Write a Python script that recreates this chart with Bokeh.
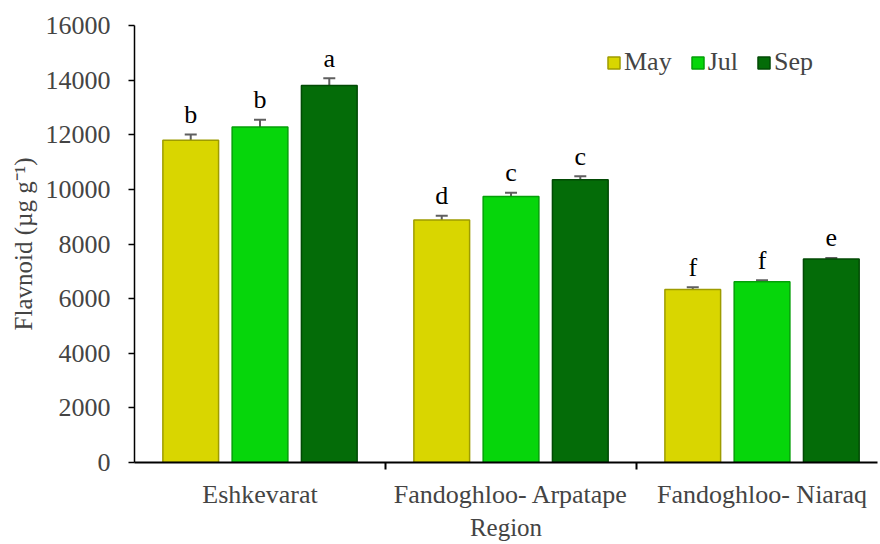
import numpy as np
from bokeh.plotting import figure
from bokeh.models import ColumnDataSource, FixedTicker, Range1d, Legend, LegendItem, Whisker
from bokeh.core.properties import value
from bokeh.embed import file_html
from bokeh.resources import INLINE

regions = ["Eshkevarat", "Fandoghloo- Arpatape", "Fandoghloo- Niaraq"]
months = ["May", "Jul", "Sep"]
may = [11800, 8880, 6330]
jul = [12280, 9740, 6620]
sep = [13800, 10350, 7450]
may_err = [210, 150, 90]
jul_err = [270, 140, 50]
sep_err = [270, 130, 40]
may_let = ["b", "d", "f"]
jul_let = ["b", "c", "f"]
sep_let = ["a", "c", "e"]
y_ticks = [0, 2000, 4000, 6000, 8000, 10000, 12000, 14000, 16000]

fills = ["#D9D600", "#06D60B", "#046C08"]
edges = ["#9E9C00", "#04A008", "#024A05"]
offsets = [-0.276, 0.0, 0.276]
bar_w = 0.222

FONT = "Liberation Serif"
FS = "26px"

p = figure(width=880, height=544, output_backend="svg", toolbar_location=None,
           x_range=Range1d(0, 2.96), y_range=Range1d(0, 16000),
           min_border_left=134, min_border_top=25, min_border_bottom=82, min_border_right=3)
p.outline_line_color = None
p.grid.visible = False
p.background_fill_color = "white"

centers = np.arange(len(regions)) + 0.5
series = [(may, may_err, may_let), (jul, jul_err, jul_let), (sep, sep_err, sep_let)]
items = []
for i, (vals, errs, lets) in enumerate(series):
    xs = centers + offsets[i]
    v = np.array(vals, dtype=float)
    e = np.array(errs, dtype=float)
    src = ColumnDataSource(dict(x=xs, top=v, lo=v - e, hi=v + e, lab=lets))
    r = p.vbar(x="x", top="top", width=bar_w, source=src, fill_color=fills[i],
               line_color=edges[i], line_width=1.5)
    items.append(LegendItem(label=months[i], renderers=[r]))
    w = Whisker(base="x", lower="lo", upper="hi", source=src, dimension="height",
                line_color="#5f5f5f", line_width=2)
    for h in (w.upper_head, w.lower_head):
        h.size = 12
        h.line_color = "#5f5f5f"
        h.line_width = 2
    p.add_layout(w)
    p.text(x="x", y="hi", text="lab", source=src, text_align="center",
           text_baseline="alphabetic", y_offset=-20, text_font=value(FONT),
           text_font_size=FS, text_color="black")

legend = Legend(items=items, orientation="horizontal", location=(472, 385),
                glyph_width=15, glyph_height=15, label_text_font=FONT,
                label_text_font_size=FS, label_standoff=3, spacing=18,
                padding=0, margin=0, border_line_color=None,
                background_fill_alpha=0, label_height=26)
p.add_layout(legend, "center")

# y axis
p.yaxis.ticker = FixedTicker(ticks=y_ticks)
p.yaxis.axis_label = "Flavnoid (µg g⁻¹)"
p.yaxis.axis_label_text_font = FONT
p.yaxis.axis_label_text_font_size = "25px"
p.yaxis.axis_label_text_font_style = "normal"
p.yaxis.axis_label_standoff = 6
p.yaxis.major_label_text_font = FONT
p.yaxis.major_label_text_font_size = FS
p.yaxis.major_label_standoff = 18
p.yaxis.major_tick_out = 6
p.yaxis.major_tick_in = 0
p.yaxis.minor_tick_out = 0
p.yaxis.minor_tick_in = 0
p.yaxis.axis_line_width = 1.5
p.yaxis.major_tick_line_width = 1.5
p.yaxis.axis_line_color = "black"

# x axis
p.xaxis.ticker = FixedTicker(ticks=list(centers), minor_ticks=[1.0, 2.0])
p.xaxis.major_label_overrides = {float(c): r for c, r in zip(centers, regions)}
p.xaxis.major_tick_out = 0
p.xaxis.major_tick_in = 0
p.xaxis.minor_tick_out = 7
p.xaxis.minor_tick_in = 0
p.xaxis.minor_tick_line_width = 2
p.xaxis.minor_tick_line_color = "black"
p.xaxis.axis_line_width = 2
p.xaxis.axis_line_color = "black"
p.xaxis.major_label_text_font = FONT
p.xaxis.major_label_text_font_size = FS
p.xaxis.major_label_standoff = 10
p.xaxis.axis_label = "Region"
p.xaxis.axis_label_text_font = FONT
p.xaxis.axis_label_text_font_size = "25px"
p.xaxis.axis_label_text_font_style = "normal"
p.xaxis.axis_label_standoff = 2

open("out.html", "w").write(file_html(p, INLINE))
